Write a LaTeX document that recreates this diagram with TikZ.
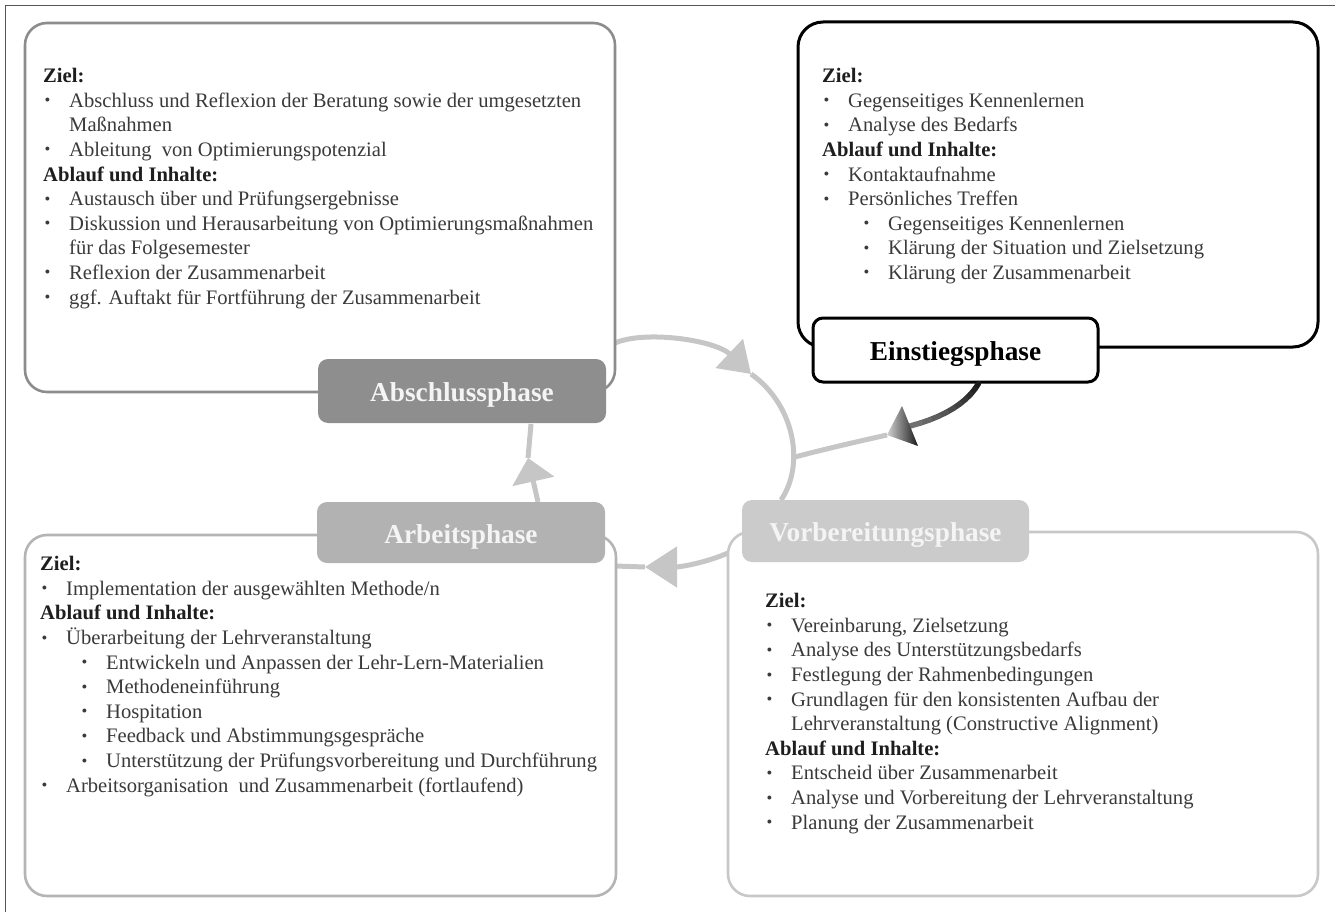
\documentclass[tikz,border=0pt]{standalone}
\usepackage{fontspec}
\setmainfont{Liberation Serif}
\usetikzlibrary{arrows.meta}
\definecolor{framec}{HTML}{555555}
\definecolor{tlc}{HTML}{8C8C8C}
\definecolor{blc}{HTML}{B4B4B4}
\definecolor{brc}{HTML}{C8C8C8}
\definecolor{absfill}{HTML}{8E8E8E}
\definecolor{arbfill}{HTML}{B2B2B2}
\definecolor{vorfill}{HTML}{CBCBCB}
\definecolor{arcc}{HTML}{C6C6C6}
\definecolor{bodyc}{HTML}{3A3A3A}
\definecolor{headc}{HTML}{1E1E1E}
\definecolor{labtxt}{HTML}{F4F4F4}
\newcommand\hdl[1]{\hbox{\bfseries\color{headc}#1}}
\newcommand\bul{\raisebox{1.5pt}{\scalebox{0.8}{\textbullet}}}
\newcommand\itm[1]{\hbox{\hspace*{1.5pt}\makebox[24.5pt][l]{\bul}#1}}
\newcommand\sitm[1]{\hbox{\hspace*{41.5pt}\makebox[24.5pt][l]{\bul}#1}}
\newcommand\cnt[1]{\hbox{\hspace*{26pt}#1}}
\newcommand\txtblock[1]{\vtop{\baselineskip=24.6pt\lineskiplimit=-20pt\lineskip=0pt #1}}
\tikzset{
  bigbox/.style={rounded corners=22pt, line width=2.6pt, fill=white},
  phase/.style={rounded corners=10pt, inner sep=0pt, text height=21pt, text depth=0pt,
    font=\fontsize{27.3}{30}\selectfont\bfseries},
  arcline/.style={draw=arcc, line width=5pt},
  body/.style={anchor=base west, inner sep=0pt, text=bodyc, font=\fontsize{20.6}{24.6}\selectfont},
}
\begin{document}
\begin{tikzpicture}[x=1pt,y=-1pt]
\useasboundingbox (0,0) rectangle (1335,912);
% outer frame
\draw[framec, line width=1pt] (5,912) -- (5,6) -- (1335,6);

% named points on the cycle
\coordinate (arcA) at (615,343);
\coordinate (tipA) at (751,374);
\coordinate (arcB) at (781,500);
\coordinate (arcC) at (728,553);
\coordinate (tipC) at (645,567);
\coordinate (arcD) at (615,566);
\coordinate (arbTop) at (538,502);
\coordinate (tipE) at (528,458);
\coordinate (absBot) at (531,424);
\coordinate (einTip) at (887,435);
\coordinate (circE) at (795,457);

% cycle arcs
\draw[arcline, -{Triangle[length=30pt,width=39pt]}] (arcA) .. controls (645,330) and (715,340) .. (tipA);
\draw[arcline] (tipA) .. controls (795,405) and (805,465) .. (arcB);
\draw[arcline, -{Triangle[length=32pt,width=40pt]}] (arcC) .. controls (705,563) and (680,567) .. (tipC);
\draw[arcline] (tipC) -- (arcD);
\draw[arcline, -{Triangle[length=24pt,width=42pt]}] (arbTop) -- (tipE);
\draw[arcline] (tipE) -- (absBot);
\draw[arcline] (einTip) .. controls (860,441) and (825,449) .. (circE);

% boxes
\node[bigbox, draw=tlc, minimum width=590pt, minimum height=369pt] (TL) at (320,207.5) {};
\node[bigbox, draw=black, line width=3pt, rounded corners=25pt, minimum width=520pt, minimum height=325pt] (TR) at (1058,184.5) {};
\node[bigbox, draw=blc, minimum width=591pt, minimum height=361pt] (BL) at (320.5,715.5) {};
\node[bigbox, draw=brc, minimum width=590pt, minimum height=364pt] (BR) at (1023,714) {};

% phase labels
\node[phase, fill=absfill, text=labtxt, minimum width=288pt, minimum height=64pt] (Abs) at (462,391) {Abschlussphase};
\node[phase, draw=black, line width=3pt, fill=white, text=black, minimum width=285pt, minimum height=64pt] (Ein) at (955.5,350) {Einstiegsphase};
\node[phase, fill=arbfill, text=labtxt, minimum width=288pt, minimum height=61pt] (Arb) at (461,532.5) {Arbeitsphase};
\node[phase, fill=vorfill, text=labtxt, minimum width=287pt, minimum height=62pt] (Vor) at (885.5,531) {Vorbereitungsphase};

% Einstieg arrow with gradient
\coordinate (g0) at ([xshift=23pt]Ein.south);
\coordinate (g10) at (910,426);
\path (g0) .. controls (968,402) and (945,417) .. (g10)
  coordinate[pos=0.1] (g1) coordinate[pos=0.2] (g2) coordinate[pos=0.3] (g3)
  coordinate[pos=0.4] (g4) coordinate[pos=0.5] (g5) coordinate[pos=0.6] (g6)
  coordinate[pos=0.7] (g7) coordinate[pos=0.8] (g8) coordinate[pos=0.9] (g9);
\foreach \i [count=\j from 1] in {0,...,9} {
  \pgfmathsetmacro\cc{90-3.8*\i}
  \draw[line width=5.5pt, line cap=round, black!\cc] (g\i) -- (g\j);
}
\shade[left color=black!18, right color=black!90] (902,406) -- (918,446) -- (einTip) -- cycle;

% texts
\node[body] (tlText) at (43,82.7) {\txtblock{%
\hdl{Ziel:}
\itm{Abschluss und Reflexion der Beratung sowie der umgesetzten}
\cnt{Maßnahmen}
\itm{Ableitung\ \ von Optimierungspotenzial}
\hdl{Ablauf und Inhalte:}
\itm{Austausch über und Prüfungsergebnisse}
\itm{Diskussion und Herausarbeitung von Optimierungsmaßnahmen}
\cnt{für das Folgesemester}
\itm{Reflexion der Zusammenarbeit}
\itm{ggf. Auftakt für Fortführung der Zusammenarbeit}}};

\node[body] (trText) at (822,82.7) {\txtblock{%
\hdl{Ziel:}
\itm{Gegenseitiges Kennenlernen}
\itm{Analyse des Bedarfs}
\hdl{Ablauf und Inhalte:}
\itm{Kontaktaufnahme}
\itm{Persönliches Treffen}
\sitm{Gegenseitiges Kennenlernen}
\sitm{Klärung der Situation und Zielsetzung}
\sitm{Klärung der Zusammenarbeit}}};

\node[body] (blText) at (40,570.7) {\txtblock{%
\hdl{Ziel:}
\itm{Implementation der ausgewählten Methode/n}
\hdl{Ablauf und Inhalte:}
\itm{Überarbeitung der Lehrveranstaltung}
\sitm{Entwickeln und Anpassen der Lehr-Lern-Materialien}
\sitm{Methodeneinführung}
\sitm{Hospitation}
\sitm{Feedback und Abstimmungsgespräche}
\sitm{Unterstützung der Prüfungsvorbereitung und Durchführung}
\itm{Arbeitsorganisation\ \ und Zusammenarbeit (fortlaufend)}}};

\node[body] (brText) at (765,607.7) {\txtblock{%
\hdl{Ziel:}
\itm{Vereinbarung, Zielsetzung}
\itm{Analyse des Unterstützungsbedarfs}
\itm{Festlegung der Rahmenbedingungen}
\itm{Grundlagen für den konsistenten Aufbau der}
\cnt{Lehrveranstaltung (Constructive Alignment)}
\hdl{Ablauf und Inhalte:}
\itm{Entscheid über Zusammenarbeit}
\itm{Analyse und Vorbereitung der Lehrveranstaltung}
\itm{Planung der Zusammenarbeit}}};
\end{tikzpicture}
\end{document}
